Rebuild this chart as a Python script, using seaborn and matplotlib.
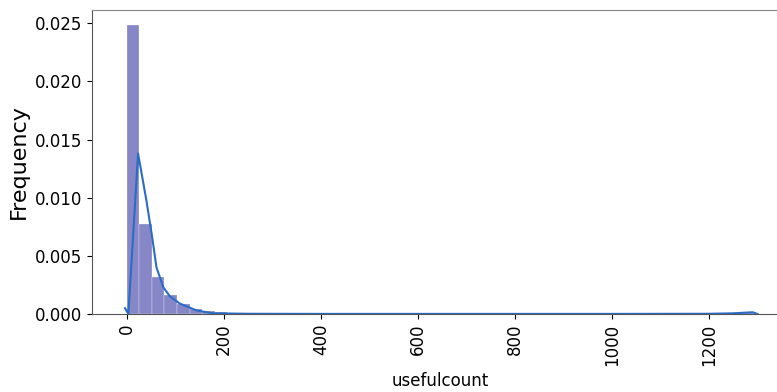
import numpy as np
import pandas as pd
import matplotlib
matplotlib.use("Agg")
import matplotlib.pyplot as plt
import seaborn as sns

# Histogram of useful counts: 50 equal-width bins over 0..1291, density per bin
bin_lo = 0.0
bin_hi = 1291.0
n_bins = 50
density = [
    0.0249, 0.0077, 0.0032, 0.0016, 0.00085, 0.00045, 0.00024, 0.00013,
    0.00008, 0.00005, 0.00003, 0.00002, 0.000015, 0.00001, 0.00001, 0.000008,
    0.000006, 0.000005, 0.000004, 0.000004, 0.000003, 0.000003, 0.000003, 0.000003,
    0.000003, 0.000003, 0.000003, 0.000003, 0.000003, 0.000003, 0.000003, 0.000003,
    0.000003, 0.000003, 0.000003, 0.000003, 0.000003, 0.000003, 0.000003, 0.000003,
    0.000003, 0.000003, 0.000003, 0.000003, 0.000003, 0.00003, 0.00006, 0.00008,
    0.0001, 0.00018,
]

# Smoothed density curve
curve_x = [-4, 3, 23, 40, 51, 61, 75, 89, 109, 144, 178, 250, 400, 600, 800,
           1000, 1200, 1250, 1290, 1300]
curve_y = [0.0005, 0.0, 0.0138, 0.0098, 0.0069, 0.0040, 0.0023, 0.0015, 0.0009,
           0.0003, 0.00006, 0.00002, 0.00001, 0.00001, 0.00001, 0.00001,
           0.00002, 0.00006, 0.00015, 0.0]

edges = np.linspace(bin_lo, bin_hi, n_bins + 1)
centers = (edges[:-1] + edges[1:]) / 2
hist_df = pd.DataFrame({"usefulcount": centers, "density": density})
curve_df = pd.DataFrame({"usefulcount": curve_x, "density": curve_y})

W, H = 777, 392
fig = plt.figure(figsize=(W / 100, H / 100), dpi=100)
ax = fig.add_axes([92 / W, 78 / H, 697 / W, 304 / H])

sns.histplot(data=hist_df, x="usefulcount", weights="density", bins=n_bins,
             binrange=(bin_lo, bin_hi), color="darkblue", alpha=0.47,
             edgecolor="white", linewidth=0.2, ax=ax)
sns.lineplot(data=curve_df, x="usefulcount", y="density", color="#2b6cc4",
             linewidth=1.5, ax=ax)

ax.set_xlim(-72, 1365)
ax.set_ylim(0, 0.02615)
ax.set_xticks([0, 200, 400, 600, 800, 1000, 1200])
ax.set_yticks([0.0, 0.005, 0.010, 0.015, 0.020, 0.025])
ax.set_yticklabels([f"{v:.3f}" for v in ax.get_yticks()])
ax.tick_params(axis="x", labelrotation=90, labelsize=12)
ax.tick_params(axis="y", labelsize=12)
ax.set_xlabel("usefulcount", fontsize=12)
ax.set_ylabel("Frequency", fontsize=16)
for s in ax.spines.values():
    s.set_color("#555555")
ax.spines["top"].set_color("#8a8a8a")
ax.spines["right"].set_visible(False)

fig.savefig("out.png", dpi=100)
